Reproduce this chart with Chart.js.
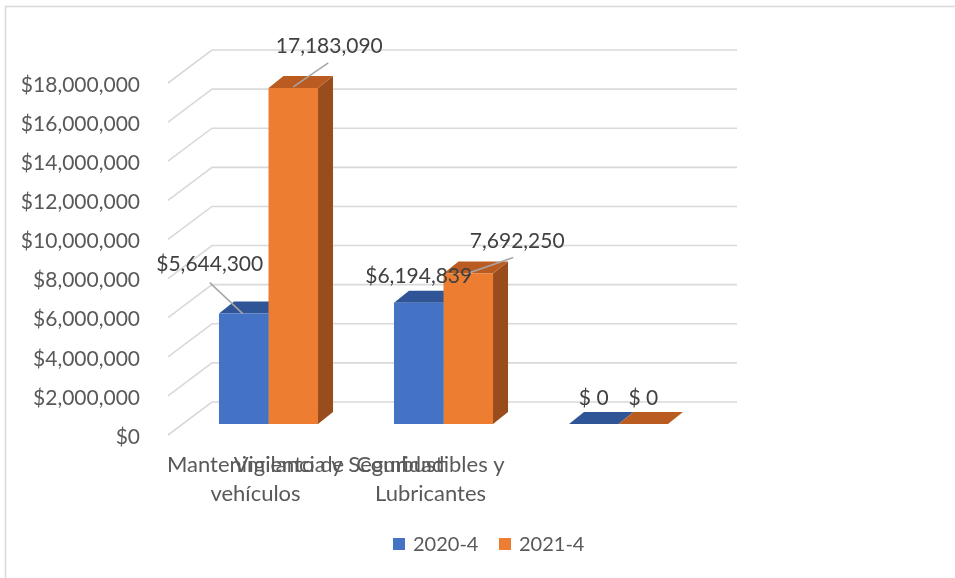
<!DOCTYPE html>
<html>
<head>
<meta charset="utf-8">
<script src="https://cdn.jsdelivr.net/npm/chart.js@4"></script>
<style>
  html, body { margin: 0; padding: 0; background: #ffffff; }
  #wrap { width: 955px; height: 578px; position: relative; }
</style>
</head>
<body>
<div id="wrap"><canvas id="c" width="955" height="578"></canvas></div>
<script>
// ---- data ----
const categories = [["Mantenimiento de", "vehículos"], ["Combustibles y", "Lubricantes"], ["Vigilancia y Seguridad"]];
const seriesNames = ["2020-4", "2021-4"];
const series2020 = [5644300, 6194839, 0];
const series2021 = [17183090, 7692250, 0];
const yTicks = [0, 2000000, 4000000, 6000000, 8000000, 10000000, 12000000, 14000000, 16000000, 18000000];
const labelPrefix = ["$", ""];

// ---- styles ----
const FONT = "Lato, 'Open Sans', sans-serif";
const frontColors = ["#4472C4", "#ED7D31"];
const topColors = ["#2F5597", "#BA5C22"];
const sideColors = ["#2A4B85", "#9A4D1C"];
const GRID = "#D9D9D9";
const AXIS_TEXT = "#595959";
const LABEL_TEXT = "#404040";
const BAR_DX = 15, BAR_DY = -12;      // bar depth
const FRONT_DX = -13, FRONT_DY = 11;   // floor front edge relative to bar plane
const BACK_DX = 31, BACK_DY = -22;     // back wall relative to bar plane

// per data label: offset of label centre from bar front-top centre, optional leader line
const labelLayout = [
  [ {dx: -34, dy: -49, lead: [-34, -31, -1, 0]}, {dx: 0, dy: -27}, {dx: 0, dy: -26} ],
  [ {dx: 36, dy: -42, lead: [35, -25, 0, -1]}, {dx: 49, dy: -32, lead: [45, -16, 2, -1]}, {dx: 0, dy: -26} ]
];

function fmt(v, si) {
  if (v === 0) return "$ 0";
  return labelPrefix[si] + v.toLocaleString("en-US");
}

const threeD = {
  id: "threeD",
  beforeDatasetsDraw(chart) {
    const ctx = chart.ctx;
    const ys = chart.scales.y;
    const area = chart.chartArea;
    ctx.save();
    // gridlines: back wall + left wall diagonals
    ctx.strokeStyle = GRID;
    ctx.lineWidth = 1.6;
    yTicks.forEach(v => {
      const yv = ys.getPixelForValue(v);
      ctx.beginPath();
      ctx.moveTo(area.left + FRONT_DX, yv + FRONT_DY);
      ctx.lineTo(area.left + BACK_DX, yv + BACK_DY);
      ctx.lineTo(area.right + BACK_DX, yv + BACK_DY);
      ctx.stroke();
    });
    // y tick labels on the front plane
    ctx.fillStyle = AXIS_TEXT;
    ctx.font = "21px " + FONT;
    ctx.textAlign = "right";
    ctx.textBaseline = "middle";
    yTicks.forEach(v => {
      const yv = ys.getPixelForValue(v);
      ctx.fillText("$" + v.toLocaleString("en-US"), 140, yv + FRONT_DY + 2);
    });
    // bar tops and sides
    chart.data.datasets.forEach((ds, si) => {
      const meta = chart.getDatasetMeta(si);
      meta.data.forEach(bar => {
        const p = bar.getProps(["x", "y", "base", "width"], true);
        const L = p.x - p.width / 2, R = p.x + p.width / 2, T = p.y, B = p.base;
        ctx.fillStyle = sideColors[si];
        ctx.beginPath();
        ctx.moveTo(R, T); ctx.lineTo(R + BAR_DX, T + BAR_DY);
        ctx.lineTo(R + BAR_DX, B + BAR_DY); ctx.lineTo(R, B); ctx.closePath(); ctx.fill();
        ctx.fillStyle = topColors[si];
        ctx.beginPath();
        ctx.moveTo(L, T); ctx.lineTo(R, T);
        ctx.lineTo(R + BAR_DX, T + BAR_DY); ctx.lineTo(L + BAR_DX, T + BAR_DY); ctx.closePath(); ctx.fill();
      });
    });
    ctx.restore();
  },
  afterDatasetsDraw(chart) {
    const ctx = chart.ctx;
    const xs = chart.scales.x;
    ctx.save();
    // data labels
    chart.data.datasets.forEach((ds, si) => {
      const meta = chart.getDatasetMeta(si);
      meta.data.forEach((bar, i) => {
        const p = bar.getProps(["x", "y"], true);
        const lay = labelLayout[si][i];
        if (lay.lead) {
          ctx.strokeStyle = "#A6A6A6";
          ctx.lineWidth = 1.5;
          ctx.beginPath();
          ctx.moveTo(p.x + lay.lead[0], p.y + lay.lead[1]);
          ctx.lineTo(p.x + lay.lead[2], p.y + lay.lead[3]);
          ctx.stroke();
        }
        ctx.fillStyle = LABEL_TEXT;
        ctx.font = "21px " + FONT;
        ctx.textAlign = "center";
        ctx.textBaseline = "middle";
        ctx.fillText(fmt(ds.data[i], si), p.x + lay.dx, p.y + lay.dy);
      });
    });
    // category labels on the front plane (as rendered in the source, third one lands between the first two)
    ctx.fillStyle = AXIS_TEXT;
    ctx.font = "22px " + FONT;
    ctx.textAlign = "center";
    ctx.textBaseline = "middle";
    categories.forEach((lines, i) => {
      let cx = xs.getPixelForValue(i) + FRONT_DX;
      if (i === 2) cx = (xs.getPixelForValue(0) + xs.getPixelForValue(1)) / 2 + FRONT_DX - 4;
      lines.forEach((t, k) => ctx.fillText(t, cx, 465 + k * 29));
    });
    // legend
    ctx.font = "20px " + FONT;
    ctx.textAlign = "left";
    const legendX = [393, 499];
    chart.data.datasets.forEach((ds, si) => {
      ctx.fillStyle = frontColors[si];
      ctx.fillRect(legendX[si], 538, 12, 12);
      ctx.fillStyle = AXIS_TEXT;
      ctx.fillText(ds.label, legendX[si] + 20, 545);
    });
    // outer border (left and top visible)
    ctx.strokeStyle = GRID;
    ctx.lineWidth = 1.5;
    ctx.beginPath();
    ctx.moveTo(5.5, 600); ctx.lineTo(5.5, 6.5); ctx.lineTo(1000, 6.5);
    ctx.stroke();
    ctx.restore();
  }
};

new Chart(document.getElementById("c"), {
  type: "bar",
  data: {
    labels: categories,
    datasets: [
      { label: seriesNames[0], data: series2020, backgroundColor: frontColors[0], borderWidth: 0 },
      { label: seriesNames[1], data: series2021, backgroundColor: frontColors[1], borderWidth: 0 }
    ]
  },
  options: {
    responsive: false,
    animation: false,
    devicePixelRatio: 1,
    layout: { padding: { left: 181, right: 249, top: 72, bottom: 154 } },
    plugins: { legend: { display: false }, tooltip: { enabled: false } },
    datasets: { bar: { categoryPercentage: 0.566, barPercentage: 1.0 } },
    scales: {
      x: { display: false, grid: { display: false } },
      y: { display: false, min: 0, max: 18000000, ticks: { stepSize: 2000000 }, grid: { display: false } }
    }
  },
  plugins: [threeD]
});
</script>
</body>
</html>
